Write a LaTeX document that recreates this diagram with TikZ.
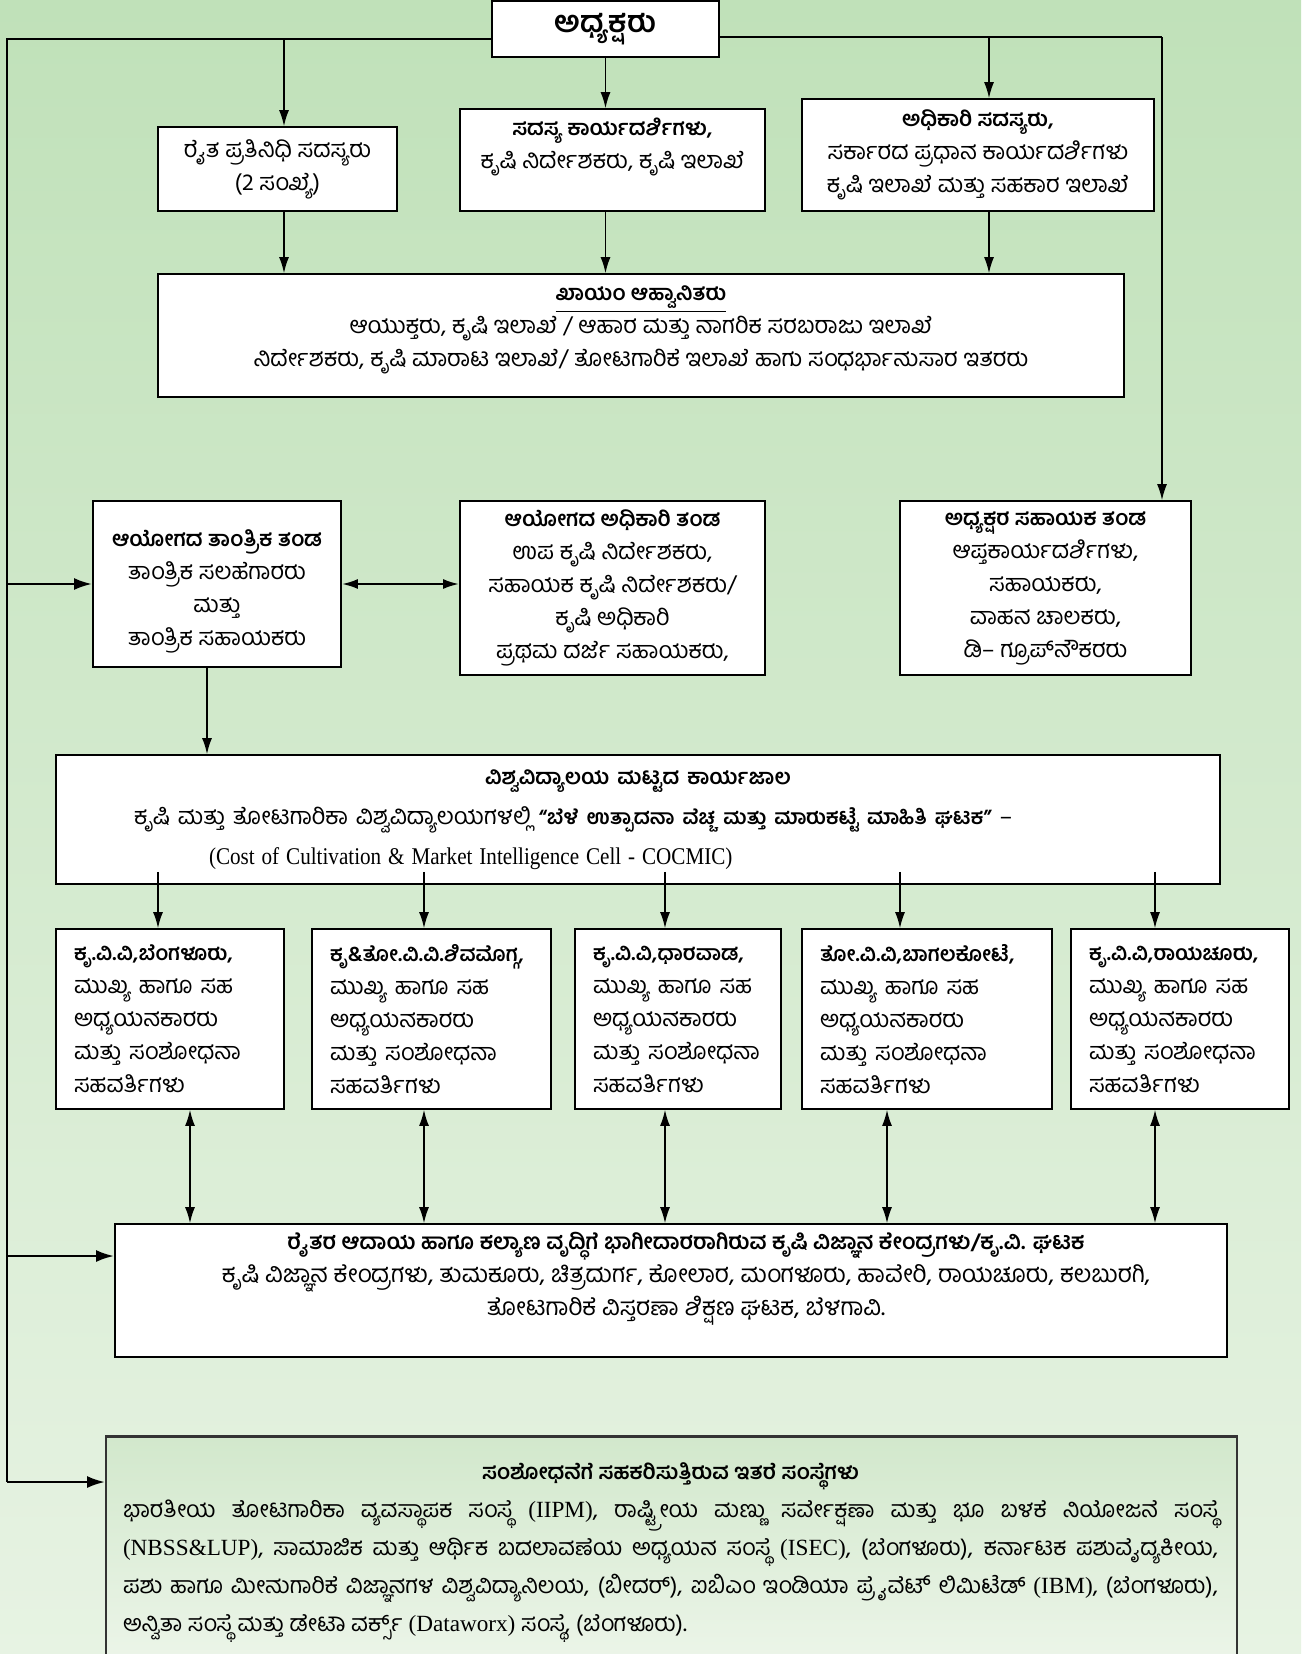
\documentclass[tikz,border=0pt]{standalone}
\usepackage{fontspec}
\usepackage{graphicx}
\setmainfont{Liberation Serif}
\newfontfamily\kn[Script=Kannada]{Hind Mysuru}
\usetikzlibrary{arrows.meta,positioning}

\definecolor{bgtop}{RGB}{192,225,185}
\definecolor{bgbot}{RGB}{231,243,227}
\definecolor{notetop}{RGB}{210,232,204}
\definecolor{notebot}{RGB}{238,246,235}

% bold heading text, a bit smaller than the body
\newcommand{\hd}[1]{{\bfseries\fontsize{10.7}{16.5}\selectfont #1}}
\newcommand{\kvrole}{ಮುಖ್ಯ ಹಾಗೂ ಸಹ\\ಅಧ್ಯಯನಕಾರರು\\ಮತ್ತು ಸಂಶೋಧನಾ\\ಸಹವರ್ತಿಗಳು}

\begin{document}
\begin{tikzpicture}[x=0.5pt, y=-0.5pt,
  box/.style={draw=black, fill=white, line width=0.9pt, inner sep=0pt,
    font=\kn\fontsize{11.8}{16.5}\selectfont, align=center},
  txt/.style={inner sep=0pt, font=\kn\fontsize{11.8}{16.5}\selectfont, align=center},
  unibox/.style={box, text width=96pt, inner xsep=9pt, align=left, minimum height=90pt},
  arr/.style={-{Latex[length=8pt,width=5pt]}, line width=0.7pt},
  dbl/.style={{Latex[length=8pt,width=5pt]}-{Latex[length=8pt,width=5pt]}, line width=0.7pt},
  feed/.style={-{Latex[length=9pt,width=6pt]}, line width=1.3pt},
  bus/.style={line width=1pt},
]

% page and background
\useasboundingbox (0,0) rectangle (1301,1654);
\clip (0,0) rectangle (1301,1654);
\shade[top color=bgtop, bottom color=bgbot] (0,0) rectangle (1301,1654);

% ============================================================
% CHAIRMAN AND MEMBERS
% ============================================================
\node[box, minimum width=113.5pt, minimum height=28pt,
  font=\kn\bfseries\fontsize{15}{18}\selectfont] (chair) at (605.5,29) {ಅಧ್ಯಕ್ಷರು};

\node[box, minimum width=119.5pt, minimum height=42pt] (farm) at (277.5,169)
  {ರೈತ ಪ್ರತಿನಿಧಿ ಸದಸ್ಯರು\\(2 ಸಂಖ್ಯೆ)};

\node[box, minimum width=152.5pt, minimum height=51pt] (secy) at (612.5,160) {};
\node[txt] (secy-t) at ([yshift=-19.5pt]secy.north)
  {\hd{ಸದಸ್ಯ ಕಾರ್ಯದರ್ಶಿಗಳು,}\\ಕೃಷಿ ನಿರ್ದೇಶಕರು, ಕೃಷಿ ಇಲಾಖೆ};

\node[box, minimum width=176pt, minimum height=56pt] (offi) at (978,155)
  {\hd{ಅಧಿಕಾರಿ ಸದಸ್ಯರು,}\\ಸರ್ಕಾರದ ಪ್ರಧಾನ ಕಾರ್ಯದರ್ಶಿಗಳು\\ಕೃಷಿ ಇಲಾಖೆ ಮತ್ತು ಸಹಕಾರ ಇಲಾಖೆ};

\node[box, minimum width=483pt, minimum height=61.5pt] (invit) at (641,335.5) {};
\node[txt] (invit-t) at ([yshift=-28.5pt]invit.north)
  {\underline{\hd{ಖಾಯಂ ಆಹ್ವಾನಿತರು}}\\
   ಆಯುಕ್ತರು, ಕೃಷಿ ಇಲಾಖೆ / ಆಹಾರ ಮತ್ತು ನಾಗರಿಕ ಸರಬರಾಜು ಇಲಾಖೆ\\
   ನಿರ್ದೇಶಕರು, ಕೃಷಿ ಮಾರಾಟ ಇಲಾಖೆ/ ತೋಟಗಾರಿಕೆ ಇಲಾಖೆ ಹಾಗು ಸಂಧರ್ಭಾನುಸಾರ ಇತರರು};

% ============================================================
% COMMISSION TEAMS
% ============================================================
\node[box, minimum width=124pt, minimum height=83pt] (tech) at (217,584) {};
\node[txt] (tech-t) at ([yshift=-3.7pt]tech.center)
  {\hd{ಆಯೋಗದ ತಾಂತ್ರಿಕ ತಂಡ}\\ತಾಂತ್ರಿಕ ಸಲಹೆಗಾರರು\\ಮತ್ತು\\ತಾಂತ್ರಿಕ ಸಹಾಯಕರು};

\node[box, minimum width=152.5pt, minimum height=87pt] (staff) at (612.5,588)
  {\hd{ಆಯೋಗದ ಅಧಿಕಾರಿ ತಂಡ}\\ಉಪ ಕೃಷಿ ನಿರ್ದೇಶಕರು,\\ಸಹಾಯಕ ಕೃಷಿ ನಿರ್ದೇಶಕರು/\\ಕೃಷಿ ಅಧಿಕಾರಿ\\ಪ್ರಥಮ ದರ್ಜೆ ಸಹಾಯಕರು,};

\node[box, minimum width=145.5pt, minimum height=87pt] (asst) at (1045.5,588)
  {\hd{ಅಧ್ಯಕ್ಷರ ಸಹಾಯಕ ತಂಡ}\\ಆಪ್ತಕಾರ್ಯದರ್ಶಿಗಳು,\\ಸಹಾಯಕರು,\\ವಾಹನ ಚಾಲಕರು,\\ಡಿ– ಗ್ರೂಪ್‌ನೌಕರರು};

% ============================================================
% UNIVERSITY NETWORK
% ============================================================
\node[box, text width=570pt, inner xsep=6pt, minimum height=64.5pt, align=left,
  font=\kn\fontsize{11.8}{20}\selectfont] (univ) at (638,819.5)
  {\centering{\bfseries\fontsize{10.7}{20}\selectfont ವಿಶ್ವವಿದ್ಯಾಲಯ ಮಟ್ಟದ ಕಾರ್ಯಜಾಲ}\par
   \raggedright\hspace*{33pt}ಕೃಷಿ ಮತ್ತು ತೋಟಗಾರಿಕಾ ವಿಶ್ವವಿದ್ಯಾಲಯಗಳಲ್ಲಿ
   {\bfseries\fontsize{10.3}{20}\selectfont “ಬೆಳೆ ಉತ್ಪಾದನಾ ವೆಚ್ಚ ಮತ್ತು ಮಾರುಕಟ್ಟೆ ಮಾಹಿತಿ ಘಟಕ”} –\par
   \hspace*{70.5pt}\scalebox{0.88}[1]{\rmfamily\fontsize{12}{20}\selectfont (Cost of Cultivation \& Market Intelligence Cell - COCMIC)}};

\foreach \n/\cx/\w/\uname in {
    u1/170/96/{ಕೃ.ವಿ.ವಿ,ಬೆಂಗಳೂರು,},
    u2/431.5/101.5/{ಕೃ\&ತೋ.ವಿ.ವಿ.ಶಿವಮೊಗ್ಗ,},
    u3/678/85/{ಕೃ.ವಿ.ವಿ,ಧಾರವಾಡ,},
    u4/927/107/{ತೋ.ವಿ.ವಿ,ಬಾಗಲಕೋಟೆ,},
    u5/1180/91/{ಕೃ.ವಿ.ವಿ,ರಾಯಚೂರು,}}
  \node[unibox, text width=\w pt] (\n) at (\cx,1019)
    {{\bfseries\fontsize{10.4}{16.5}\selectfont\uname}\\\kvrole};

% ============================================================
% KVK AND OTHER INSTITUTES
% ============================================================
\node[box, minimum width=556pt, minimum height=66.5pt] (kvk) at (671,1290.5) {};
\node[txt, font=\kn\fontsize{12.2}{16.5}\selectfont] (kvk-t) at ([xshift=7.5pt, yshift=-27.8pt]kvk.north)
  {{\bfseries\fontsize{11}{16.5}\selectfont ರೈತರ ಆದಾಯ ಹಾಗೂ ಕಲ್ಯಾಣ ವೃದ್ಧಿಗೆ ಭಾಗೀದಾರರಾಗಿರುವ ಕೃಷಿ ವಿಜ್ಞಾನ ಕೇಂದ್ರಗಳು/ಕೃ.ವಿ. ಘಟಕ}\\
   ಕೃಷಿ ವಿಜ್ಞಾನ ಕೇಂದ್ರಗಳು, ತುಮಕೂರು, ಚಿತ್ರದುರ್ಗ, ಕೋಲಾರ, ಮಂಗಳೂರು, ಹಾವೇರಿ, ರಾಯಚೂರು, ಕಲಬುರಗಿ,\\
   ತೋಟಗಾರಿಕೆ ವಿಸ್ತರಣಾ ಶಿಕ್ಷಣ ಘಟಕ, ಬೆಳಗಾವಿ.};

\node[box, draw=black!80, top color=notetop, bottom color=notebot,
  minimum width=565.5pt, minimum height=121.5pt] (other) at (671.5,1558.5) {};
\draw[line width=1.4pt, black!80] (other.north west) -- (other.north east);
\node[txt, text width=547.5pt, align=justify, font=\kn\fontsize{11.6}{19}\selectfont,
  execute at begin node={\setlength{\parindent}{0pt}\emergencystretch=2em}]
  (other-t) at ([xshift=-0.5pt, yshift=-58pt]other.north)
  {\makebox[\linewidth][c]{\bfseries\fontsize{10.7}{19}\selectfont ಸಂಶೋಧನೆಗೆ ಸಹಕರಿಸುತ್ತಿರುವ ಇತರೆ ಸಂಸ್ಥೆಗಳು}\par
   ಭಾರತೀಯ ತೋಟಗಾರಿಕಾ ವ್ಯವಸ್ಥಾಪಕ ಸಂಸ್ಥೆ {\rmfamily (IIPM)}, ರಾಷ್ಟ್ರೀಯ ಮಣ್ಣು ಸರ್ವೇಕ್ಷಣಾ ಮತ್ತು ಭೂ ಬಳಕೆ ನಿಯೋಜನೆ ಸಂಸ್ಥೆ\linebreak
   {\rmfamily (NBSS\&LUP)}, ಸಾಮಾಜಿಕ ಮತ್ತು ಆರ್ಥಿಕ ಬದಲಾವಣೆಯ ಅಧ್ಯಯನ ಸಂಸ್ಥೆ {\rmfamily (ISEC)}, (ಬೆಂಗಳೂರು), ಕರ್ನಾಟಕ ಪಶುವೈದ್ಯಕೀಯ,\linebreak
   ಪಶು ಹಾಗೂ ಮೀನುಗಾರಿಕೆ ವಿಜ್ಞಾನಗಳ ವಿಶ್ವವಿದ್ಯಾನಿಲಯ, (ಬೀದರ್), ಐಬಿಎಂ ಇಂಡಿಯಾ ಪ್ರೈವೆಟ್ ಲಿಮಿಟೆಡ್ {\rmfamily (IBM)}, (ಬೆಂಗಳೂರು),\linebreak
   ಅನ್ವಿತಾ ಸಂಸ್ಥೆ ಮತ್ತು ಡೇಟಾ ವರ್ಕ್ಸ್ {\rmfamily (Dataworx)} ಸಂಸ್ಥೆ, (ಬೆಂಗಳೂರು).};

% ============================================================
% CONNECTORS
% ============================================================
\coordinate (lbus) at (7,39);
\coordinate (rbus) at (1162,37);
\coordinate (j1) at (284,39);
\coordinate (j3) at (989,37);
\coordinate (k9) at (7,1256);
\coordinate (lend) at (7,1482);
\coordinate (j5) at ([xshift=-5pt]tech.south);

\draw[bus] (chair.west |- lbus) -- (lbus) -- (lend);
\draw[bus] (chair.east |- rbus) -- (rbus);
\draw[arr] (rbus) -- (rbus |- asst.north);

\draw[arr] (j1) -- (j1 |- farm.north);
\draw[arr] (chair.south) -- (chair.south |- secy.north);
\draw[arr] (j3) -- (j3 |- offi.north);

\draw[arr] (farm.south -| j1) -- (j1 |- invit.north);
\draw[arr] (secy.south -| chair.south) -- (chair.south |- invit.north);
\draw[arr] (offi.south -| j3) -- (j3 |- invit.north);

\draw[feed] (lbus |- tech.west) -- (tech.west);
\draw[dbl, line width=1.1pt] (tech.east) -- (tech.east -| staff.west);
\draw[arr] (j5) -- (j5 |- univ.north);

\foreach \n/\da/\db in {u1/-6/10, u2/-3.75/-3.75, u3/-6.5/-6.5, u4/-13.5/-20, u5/-12.5/-12.5} {
  \coordinate (a-\n) at ([xshift=\da pt]\n.north);
  \coordinate (b-\n) at ([xshift=\db pt]\n.south);
  \coordinate (s-\n) at (univ.south -| a-\n);
  \draw[arr] ([yshift=6.5pt]s-\n) -- (a-\n);
  \draw[dbl] (b-\n) -- (b-\n |- kvk.north);
}

\draw[feed] (k9) -- (k9 -| kvk.west);
\draw[feed] (lend) -- (lend -| other.west);

\end{tikzpicture}
\end{document}
